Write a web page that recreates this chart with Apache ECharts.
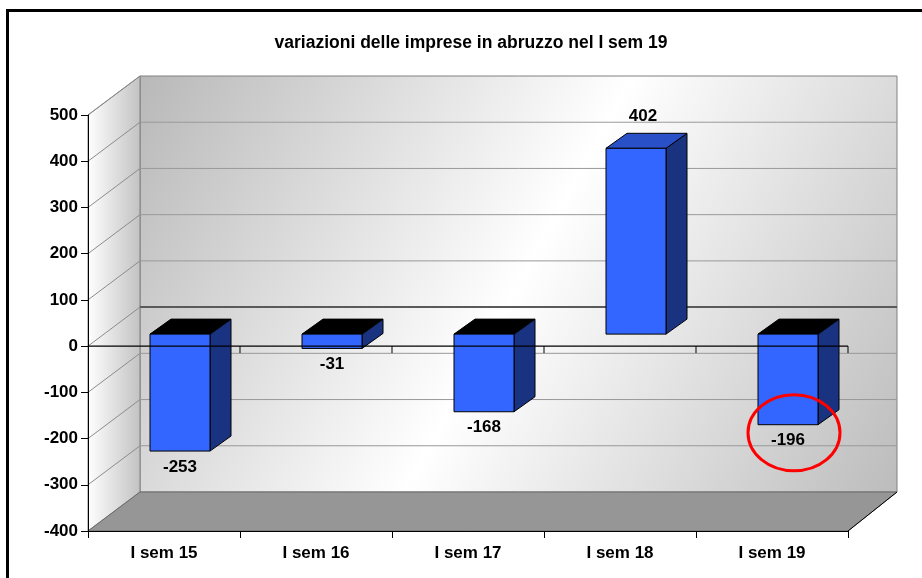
<!DOCTYPE html>
<html>
<head>
<meta charset="utf-8">
<script src="https://cdn.jsdelivr.net/npm/echarts@6/dist/echarts.min.js"></script>
<style>
  html, body { margin: 0; padding: 0; background: #fff; }
  #chart { width: 922px; height: 578px; }
</style>
</head>
<body>
<div id="chart"></div>
<script>
const categories = ['I sem 15', 'I sem 16', 'I sem 17', 'I sem 18', 'I sem 19'];
const values = [-253, -31, -168, 402, -196];
const yTicks = [-400, -300, -200, -100, 0, 100, 200, 300, 400, 500];
const highlightIndex = 4;

const FONT = '"Liberation Sans", Arial, sans-serif';

// fake 3D projection offsets (pixels)
const WALL_DX = 52, WALL_DY = -39;   // back wall
const BAR_DX = 16, BAR_DY = -12;     // bar front face
const DEPTH_DX = 21, DEPTH_DY = -15; // bar depth
const BAR_W = 60;

function barBox(api, i, v) {
  const p0 = api.coord([i, 0]);
  const p1 = api.coord([i, v]);
  const xl = p0[0] - BAR_W / 2 + BAR_DX;
  return {
    xl: xl,
    xr: xl + BAR_W,
    yt: Math.min(p0[1], p1[1]) + BAR_DY,
    yb: Math.max(p0[1], p1[1]) + BAR_DY
  };
}

function labelPos(api, i, v) {
  const b = barBox(api, i, v);
  const cx = (b.xl + b.xr) / 2;
  if (v < 0) return [cx, b.yb + 16];
  return [cx + 7, b.yt + DEPTH_DY - 17];
}

function renderWalls(params, api) {
  const cs = params.coordSys;
  const L = cs.x, R = cs.x + cs.width, T = cs.y, B = cs.y + cs.height;
  const children = [];

  // back wall
  children.push({
    type: 'rect',
    shape: { x: L + WALL_DX, y: T + WALL_DY, width: cs.width - 3, height: cs.height },
    style: {
      fill: {
        type: 'linear', x: 0, y: 0, x2: 1, y2: 1,
        colorStops: [
          { offset: 0, color: '#b8b8b8' },
          { offset: 0.5, color: '#ffffff' },
          { offset: 1, color: '#bcbcbc' }
        ]
      },
      stroke: '#808080', lineWidth: 1
    }
  });
  // left wall
  children.push({
    type: 'polygon',
    shape: { points: [[L, T], [L + WALL_DX, T + WALL_DY], [L + WALL_DX, B + WALL_DY], [L, B]] },
    style: {
      fill: {
        type: 'linear', x: 0, y: 0, x2: 1, y2: 0,
        colorStops: [
          { offset: 0, color: '#ffffff' },
          { offset: 1, color: '#c2c2c2' }
        ]
      },
      stroke: '#808080', lineWidth: 1
    }
  });
  // floor
  children.push({
    type: 'polygon',
    shape: { points: [[L, B], [R, B], [R + WALL_DX - 3, B + WALL_DY], [L + WALL_DX, B + WALL_DY]] },
    style: { fill: '#969696', stroke: '#6a6a6a', lineWidth: 1 }
  });
  children.push({
    type: 'line',
    shape: { x1: R, y1: B, x2: R + WALL_DX - 3, y2: B + WALL_DY },
    style: { stroke: '#000', lineWidth: 1 }
  });

  // gridlines on left and back walls
  yTicks.forEach(function (t) {
    const y = api.coord([0, t])[1];
    if (t > yTicks[0]) {
      children.push({
        type: 'line',
        shape: { x1: L, y1: y, x2: L + WALL_DX, y2: y + WALL_DY },
        style: { stroke: '#8c8c8c', lineWidth: 1 }
      });
    }
    if (t > yTicks[0] && t < yTicks[yTicks.length - 1]) {
      children.push({
        type: 'line',
        shape: { x1: L + WALL_DX, y1: y + WALL_DY, x2: R + WALL_DX - 3, y2: y + WALL_DY },
        style: t === 0
          ? { stroke: '#5a5a5a', lineWidth: 2 }
          : { stroke: '#999', lineWidth: 1 }
      });
    }
  });
  return { type: 'group', children: children };
}

function renderBar(params, api) {
  const i = api.value(0), v = api.value(1);
  const b = barBox(api, i, v);
  const lp = labelPos(api, i, v);
  return {
    type: 'group',
    children: [
      {
        type: 'polygon',
        shape: { points: [[b.xr, b.yt], [b.xr + DEPTH_DX, b.yt + DEPTH_DY], [b.xr + DEPTH_DX, b.yb + DEPTH_DY], [b.xr, b.yb]] },
        style: { fill: '#1a3380', stroke: '#000', lineWidth: 1 }
      },
      {
        type: 'polygon',
        shape: { points: [[b.xl, b.yt], [b.xr, b.yt], [b.xr + DEPTH_DX, b.yt + DEPTH_DY], [b.xl + DEPTH_DX, b.yt + DEPTH_DY]] },
        style: { fill: v < 0 ? '#000000' : '#2a50c8', stroke: '#000', lineWidth: 1 }
      },
      {
        type: 'rect',
        shape: { x: b.xl, y: b.yt, width: BAR_W, height: b.yb - b.yt },
        style: { fill: '#3366ff', stroke: '#000', lineWidth: 1 }
      },
      {
        type: 'text',
        x: lp[0], y: lp[1],
        style: {
          text: String(v), align: 'center', verticalAlign: 'middle',
          font: 'bold 17px ' + FONT, fill: '#000'
        }
      }
    ]
  };
}

function renderZeroAxis(params, api) {
  const cs = params.coordSys;
  const y0 = api.coord([0, 0])[1];
  const bw = api.size([1, 0])[0];
  const children = [{
    type: 'line',
    shape: { x1: cs.x, y1: y0, x2: cs.x + cs.width, y2: y0 },
    style: { stroke: '#000', lineWidth: 1.2 }
  }];
  categories.forEach(function (c, i) {
    const x = api.coord([i, 0])[0] + bw / 2;
    children.push({
      type: 'line',
      shape: { x1: x, y1: y0, x2: x, y2: y0 + 7 },
      style: { stroke: '#000', lineWidth: 1 }
    });
  });
  return { type: 'group', children: children };
}

function renderHighlight(params, api) {
  const i = api.value(0), v = api.value(1);
  const lp = labelPos(api, i, v);
  return {
    type: 'ellipse',
    shape: { cx: lp[0] + 6, cy: lp[1] - 8, rx: 46, ry: 38 },
    style: { fill: 'none', stroke: '#ff0000', lineWidth: 3 }
  };
}

const barData = categories.map(function (c, i) { return [i, values[i]]; });

const chart = echarts.init(document.getElementById('chart'), null, { renderer: 'canvas' });
chart.setOption({
  animation: false,
  backgroundColor: '#ffffff',
  title: {
    text: 'variazioni delle imprese in abruzzo nel I sem 19',
    left: 466, top: 29, textAlign: 'center',
    textStyle: { fontFamily: FONT, fontWeight: 'bold', fontSize: 17.5, color: '#000' }
  },
  graphic: [{
    type: 'rect',
    shape: { x: 7.5, y: 10.5, width: 940, height: 600 },
    style: { fill: 'none', stroke: '#000', lineWidth: 3 },
    z: 100
  }],
  grid: { left: 88, right: 74, top: 115, bottom: 47, containLabel: false },
  xAxis: {
    type: 'category',
    data: categories,
    z: 10,
    axisLine: { onZero: false, lineStyle: { color: '#000', width: 1 } },
    axisTick: { show: true, length: 7, lineStyle: { color: '#000' } },
    axisLabel: { margin: 14, color: '#000', fontFamily: FONT, fontWeight: 'bold', fontSize: 17 },
    splitLine: { show: false }
  },
  yAxis: {
    type: 'value',
    min: -400, max: 500, interval: 100,
    z: 10,
    axisLine: { show: true, lineStyle: { color: '#000', width: 1 } },
    axisTick: { show: true, length: 7, lineStyle: { color: '#000' } },
    axisLabel: { margin: 10, color: '#000', fontFamily: FONT, fontWeight: 'bold', fontSize: 17 },
    splitLine: { show: false }
  },
  series: [
    { type: 'custom', name: 'walls', z: 1, clip: false, data: [[0, 0]], renderItem: renderWalls, silent: true },
    { type: 'custom', name: 'variazioni', z: 2, clip: false, data: barData, renderItem: renderBar },
    { type: 'custom', name: 'zero', z: 3, clip: false, data: [[0, 0]], renderItem: renderZeroAxis, silent: true },
    { type: 'custom', name: 'evidenza', z: 4, clip: false, data: [barData[highlightIndex]], renderItem: renderHighlight, silent: true }
  ]
});
</script>
</body>
</html>
